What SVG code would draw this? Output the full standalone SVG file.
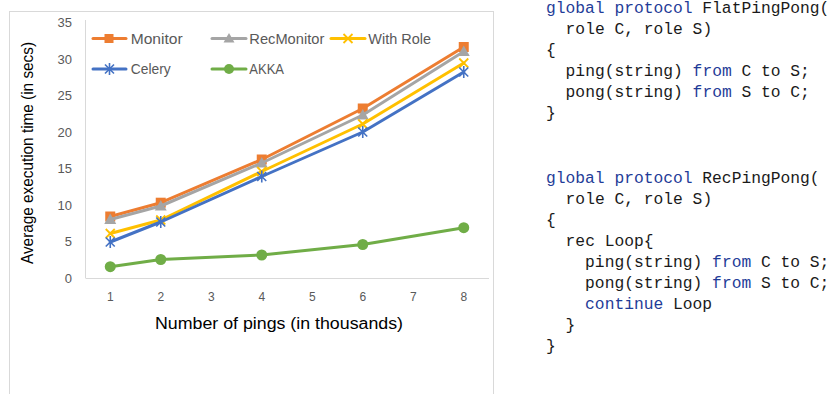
<svg xmlns="http://www.w3.org/2000/svg" width="832" height="394" viewBox="0 0 832 394">
<style>
.frame{fill:#fff;stroke:#D9D9D9;stroke-width:1}
.axis{stroke:#D9D9D9;stroke-width:1;fill:none}
.tick{font-family:"Liberation Sans",Arial,sans-serif;font-size:13px;fill:#595959}
.xt{font-family:"Liberation Sans",Arial,sans-serif;font-size:12px;fill:#595959;text-anchor:middle}
.title{font-family:"Liberation Sans",Arial,sans-serif;font-size:16px;fill:#000}
.leg{font-family:"Liberation Sans",Arial,sans-serif;font-size:15px;fill:#595959}
.ln{fill:none;stroke-width:3;stroke-linejoin:round;stroke-linecap:round}
.code{font-family:"Liberation Mono","DejaVu Sans Mono",monospace;font-size:16.3px;fill:#1a1a1a}
.kw{fill:#1f3c98}
</style>
<defs>
<rect id="msq" x="-5" y="-5" width="10" height="10" fill="#ED7D31"/>
<path id="mtri" d="M0,-6 L6,4.5 L-6,4.5 Z" fill="#A5A5A5"/>
<path id="mx" d="M-4.5,-4.5 L4.5,4.5 M-4.5,4.5 L4.5,-4.5" stroke="#FFC000" stroke-width="1.8" fill="none"/>
<path id="mast" d="M-4.5,-4.5 L4.5,4.5 M-4.5,4.5 L4.5,-4.5 M0,-6 L0,6" stroke="#4472C4" stroke-width="1.6" fill="none"/>
<circle id="mcir" r="5.5" fill="#70AD47"/>
</defs>
<rect width="832" height="394" fill="#fff"/>
<g id="chart">
<rect class="frame" x="9.5" y="11.5" width="484" height="400"/>
<line class="axis" x1="85.5" y1="20" x2="85.5" y2="278"/>
<line class="axis" x1="85.5" y1="278.5" x2="489" y2="278.5"/>
<g id="yticks" text-anchor="end">
<text class="tick" x="72" y="27">35</text>
<text class="tick" x="72" y="63.5">30</text>
<text class="tick" x="72" y="100">25</text>
<text class="tick" x="72" y="136.5">20</text>
<text class="tick" x="72" y="173">15</text>
<text class="tick" x="72" y="209.5">10</text>
<text class="tick" x="72" y="246">5</text>
<text class="tick" x="72" y="282.5">0</text>
</g>
<g id="xticks">
<text class="xt" x="110.25" y="301">1</text>
<text class="xt" x="160.75" y="301">2</text>
<text class="xt" x="211.25" y="301">3</text>
<text class="xt" x="261.75" y="301">4</text>
<text class="xt" x="312.25" y="301">5</text>
<text class="xt" x="362.75" y="301">6</text>
<text class="xt" x="413.25" y="301">7</text>
<text class="xt" x="463.75" y="301">8</text>
</g>
<text class="title" x="279" y="329" text-anchor="middle" textLength="248" lengthAdjust="spacingAndGlyphs">Number of pings (in thousands)</text>
<text class="title" transform="translate(33,153) rotate(-90)" text-anchor="middle" textLength="222" lengthAdjust="spacingAndGlyphs">Average execution time (in secs)</text>
</g>
<g id="series">
<g id="monitor">
<polyline class="ln" stroke="#ED7D31" points="110.25,216.5 160.75,202.7 261.75,159.5 362.75,108.5 463.75,47"/>
<use href="#msq" x="110.25" y="216.5"/><use href="#msq" x="160.75" y="202.7"/><use href="#msq" x="261.75" y="159.5"/><use href="#msq" x="362.75" y="108.5"/><use href="#msq" x="463.75" y="47"/>
</g>
<g id="recmonitor">
<polyline class="ln" stroke="#A5A5A5" points="110.25,219.5 160.75,206 261.75,163 362.75,115 463.75,51.5"/>
<use href="#mtri" x="110.25" y="219.5"/><use href="#mtri" x="160.75" y="206"/><use href="#mtri" x="261.75" y="163"/><use href="#mtri" x="362.75" y="115"/><use href="#mtri" x="463.75" y="51.5"/>
</g>
<g id="withrole">
<polyline class="ln" stroke="#FFC000" points="110.25,233.5 160.75,220 261.75,171.5 362.75,124 463.75,63"/>
<use href="#mx" x="110.25" y="233.5"/><use href="#mx" x="160.75" y="220"/><use href="#mx" x="261.75" y="171.5"/><use href="#mx" x="362.75" y="124"/><use href="#mx" x="463.75" y="63"/>
</g>
<g id="celery">
<polyline class="ln" stroke="#4472C4" points="110.25,242 160.75,222 261.75,176.5 362.75,132 463.75,72"/>
<use href="#mast" x="110.25" y="242"/><use href="#mast" x="160.75" y="222"/><use href="#mast" x="261.75" y="176.5"/><use href="#mast" x="362.75" y="132"/><use href="#mast" x="463.75" y="72"/>
</g>
<g id="akka">
<polyline class="ln" stroke="#70AD47" points="110.25,266.7 160.75,259.5 261.75,255 362.75,244.5 463.75,227.7"/>
<use href="#mcir" x="110.25" y="266.7"/><use href="#mcir" x="160.75" y="259.5"/><use href="#mcir" x="261.75" y="255"/><use href="#mcir" x="362.75" y="244.5"/><use href="#mcir" x="463.75" y="227.7"/>
</g>
</g>
<g id="legend">
<line class="ln" stroke="#ED7D31" x1="93" y1="38.5" x2="126" y2="38.5"/>
<rect x="104.5" y="34" width="9" height="9" fill="#ED7D31"/>
<text class="leg" x="130.7" y="43.5" textLength="52" lengthAdjust="spacingAndGlyphs">Monitor</text>
<line class="ln" stroke="#A5A5A5" x1="212" y1="38.5" x2="246" y2="38.5"/>
<path d="M229,33 L234.5,42.5 L223.5,42.5 Z" fill="#A5A5A5"/>
<text class="leg" x="249.3" y="43.5" textLength="75" lengthAdjust="spacingAndGlyphs">RecMonitor</text>
<line class="ln" stroke="#FFC000" x1="331" y1="38.5" x2="365" y2="38.5"/>
<use href="#mx" x="348" y="38.5"/>
<text class="leg" x="368.3" y="43.5" textLength="62.7" lengthAdjust="spacingAndGlyphs">With Role</text>
<line class="ln" stroke="#4472C4" x1="93" y1="69" x2="126" y2="69"/>
<use href="#mast" x="109.5" y="69"/>
<text class="leg" x="130.7" y="74" textLength="40" lengthAdjust="spacingAndGlyphs">Celery</text>
<line class="ln" stroke="#70AD47" x1="212" y1="69" x2="246" y2="69"/>
<circle cx="229" cy="69" r="5" fill="#70AD47"/>
<text class="leg" x="249.3" y="74" textLength="34.7" lengthAdjust="spacingAndGlyphs">AKKA</text>
</g>
<g id="code1" class="code">
<text x="546" y="12.5"><tspan class="kw">global protocol</tspan> FlatPingPong(</text>
<text x="565.6" y="33.6">role C, role S)</text>
<text x="546" y="54.7">{</text>
<text x="565.6" y="75.8">ping(string) <tspan class="kw">from</tspan> C to S;</text>
<text x="565.6" y="96.9">pong(string) <tspan class="kw">from</tspan> S to C;</text>
<text x="546" y="118">}</text>
</g>
<g id="code2" class="code">
<text x="546" y="182.8"><tspan class="kw">global protocol</tspan> RecPingPong(</text>
<text x="565.6" y="203.8">role C, role S)</text>
<text x="546" y="224.8">{</text>
<text x="565.6" y="245.8">rec Loop{</text>
<text x="585.1" y="266.8">ping(string) <tspan class="kw">from</tspan> C to S;</text>
<text x="585.1" y="287.8">pong(string) <tspan class="kw">from</tspan> S to C;</text>
<text x="585.1" y="308.8"><tspan class="kw">continue</tspan> Loop</text>
<text x="565.6" y="329.8">}</text>
<text x="546" y="350.8">}</text>
</g>
</svg>
